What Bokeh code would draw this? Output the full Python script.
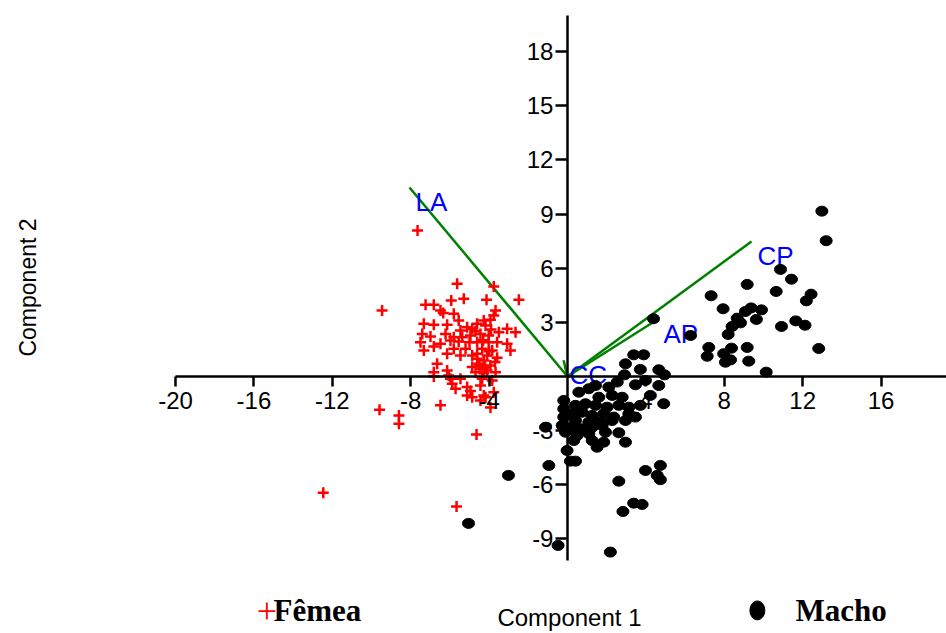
from bokeh.plotting import figure
from bokeh.models import (Range1d, LinearAxis, FixedTicker, Label, ColumnDataSource,
                          PrintfTickFormatter)
from bokeh.core.properties import value
from bokeh.embed import file_html
from bokeh.resources import INLINE

# Component scores: females (Fêmea)
fem_x = [-5.63, -3.76, -2.48, -5.93, -5.29, -4.13, -7.24, -6.82, -6.48, -6.34, -3.67, -5.80, -5.55,
         -3.76, -3.93, -7.33, -6.82, -6.14, -4.27, -4.61, -4.18, -5.12, -4.86, -5.46, -3.08, -2.65, -3.50,
         -7.41, -6.99, -6.22, -5.80, -5.37, -4.95, -4.44, -4.02, -7.50, -5.97, -5.55, -4.61, -4.02, -3.59,
         -6.82, -6.48, -3.08, -2.91, -5.80, -5.20, -4.35, -3.84, -7.33, -6.14, -5.46, -4.86, -4.61, -4.10,
         -3.59, -4.61, -4.27, -6.65, -4.52, -3.93, -4.86, -4.44, -4.10, -6.82, -6.14, -4.69, -4.27, -3.67,
         -6.82, -6.06, -5.97, -5.46, -4.35, -3.84, -5.88, -5.12, -4.44, -5.71, -4.95, -4.27, -3.76,
         -5.12, -4.86, -4.18, -6.48, -3.93, -4.44, -9.46, -9.59, -8.60, -8.60, -12.46, -7.65, -4.64, -5.66,
         -4.30, -4.70, -4.00, -4.50, -3.90, -5.00, -4.20, -3.70]
fem_y = [5.14, 4.99, 4.25, 4.21, 4.30, 4.25, 3.97, 3.97, 3.66, 3.51, 3.66, 3.47, 3.10,
         3.38, 3.14, 2.92, 2.86, 2.86, 3.10, 2.92, 2.83, 2.73, 2.64, 2.55, 2.64, 2.45, 2.45,
         2.36, 2.22, 2.36, 2.18, 2.18, 2.27, 2.36, 2.27, 1.90, 1.99, 1.94, 1.90, 1.90, 1.90,
         1.66, 1.81, 1.81, 1.44, 1.53, 1.53, 1.53, 1.44, 1.44, 1.26, 1.16, 1.16, 1.26, 1.16,
         1.04, 0.98, 0.89, 0.70, 0.70, 0.61, 0.52, 0.43, 0.33, 0.24, 0.33, 0.24, 0.18, 0.24,
         0.00, 0.06, -0.13, -0.13, -0.13, -0.22, -0.40, -0.59, -0.50, -0.68, -0.81, -1.05, -0.87,
         -1.05, -1.15, -1.15, -1.60, -1.72, -1.33, 3.66, -1.85, -2.16, -2.62, -6.44, 8.09, -3.21, -7.20,
         2.00, 2.50, 1.40, 0.60, 2.60, 1.90, 0.50, 0.80]

# Component scores: males (Macho)
mac_x = [12.98, 13.20, 10.87, 11.43, 9.17, 10.65, 7.33, 12.43, 12.19,
         7.94, 9.37, 9.90, 9.08, 8.66, 9.64, 8.83, 8.40, 10.92,
         11.65, 12.12, 8.20, 6.28, 7.21, 8.37, 9.17, 7.13, 7.97,
         8.06, 8.32, 9.25, 10.14, 12.82, 4.39,
         3.38, 3.89, 2.96, 3.72, 4.66, 4.95, 2.91, 3.98,
         3.47, 4.66, 1.43, 2.11, 2.54, 4.23, 4.91, 3.72,
         0.58, 1.09, 1.60, 2.28, 2.79, -0.19,
         0.41, 0.92, 1.43, 2.02, 2.62, 3.13, -0.19,
         0.24, 0.75, 1.26, 1.85, 2.36, 3.13, -0.19,
         0.41, 1.09, 1.68, 2.28, 2.96, 3.47,
         -0.27, 0.24, 0.75, 1.26, 1.77,
         -0.10, 0.49, 1.09, 1.94, 2.62, 1.85, -1.12,
         1.26, 2.96, 1.51, -0.02, 0.32,
         -0.95, 0.15, 0.41, 2.62, 3.98, 4.74, 4.58, 4.74,
         3.38, 3.81, 2.83, 2.19, -0.48, -3.01, -5.05]
mac_y = [9.16, 7.52, 5.93, 5.39, 5.10, 4.71, 4.47, 4.56, 4.19,
         3.75, 3.80, 3.69, 3.60, 3.23, 3.16, 2.97, 2.77, 2.77,
         3.08, 2.84, 2.33, 2.27, 1.61, 1.57, 1.61, 1.12, 1.26,
         0.79, 0.92, 0.85, 0.24, 1.55, 3.20,
         1.20, 1.20, 0.70, 0.39, 0.37, 0.09, 0.09, -0.22,
         -0.46, -0.50, -0.50, -0.59, -0.31, -1.05, -1.51, -1.60,
         -0.87, -0.68, -1.15, -1.05, -1.15, -1.33,
         -1.60, -1.51, -1.60, -1.70, -1.60, -1.70, -1.79,
         -2.07, -1.98, -2.16, -2.07, -2.25, -2.07, -2.25,
         -2.44, -2.53, -2.53, -2.44, -2.44, -2.25,
         -2.71, -2.81, -2.90, -2.81, -2.71,
         -3.09, -3.27, -3.17, -3.09, -3.12, -3.64, -2.81,
         -3.55, -3.64, -3.92, -4.10, -3.55,
         -4.93, -4.69, -4.69, -5.80, -5.21, -4.93, -5.48, -5.72,
         -7.02, -7.09, -7.48, -9.73, -9.36, -5.48, -8.14]

# Variable loadings (biplot vectors)
load_names = ["LA", "CP", "AP", "CC"]
load_x = [-8.06, 9.39, 4.59, -0.20]
load_y = [10.47, 7.48, 3.16, 0.90]

x_ticks = [-20, -16, -12, -8, -4, 4, 8, 12, 16]
y_ticks = [-9, -6, -3, 3, 6, 9, 12, 15, 18]

# the frame fills the whole canvas; the axes cross at the origin
p = figure(width=946, height=633,
           x_range=Range1d(-28.93, 19.34), y_range=Range1d(-14.24, 20.83),
           x_axis_type=None, y_axis_type=None,
           output_backend="svg", toolbar_location=None,
           min_border_left=0, min_border_right=0,
           min_border_top=0, min_border_bottom=0)
p.outline_line_color = None
p.background_fill_color = "white"
p.border_fill_color = "white"

def style_axis(ax, tick_out, standoff):
    ax.axis_line_width = 2.5
    ax.axis_line_color = "black"
    ax.major_tick_line_width = 2.5
    ax.major_tick_line_color = "black"
    ax.major_tick_out = tick_out
    ax.major_tick_in = 0
    ax.minor_tick_out = 0
    ax.minor_tick_in = 0
    ax.major_label_standoff = standoff
    ax.major_label_text_font = "Liberation Sans"
    ax.major_label_text_font_size = "24px"
    ax.major_label_text_color = "black"
    ax.formatter = PrintfTickFormatter(format="%d")

xaxis = LinearAxis(fixed_location=0, ticker=FixedTicker(ticks=x_ticks),
                   bounds=(-20, 19.34))
style_axis(xaxis, 10, 6)
p.add_layout(xaxis, "below")

yaxis = LinearAxis(fixed_location=0, ticker=FixedTicker(ticks=y_ticks),
                   bounds=(-10.2, 20.0))
style_axis(yaxis, 12, 2)
p.add_layout(yaxis, "left")

# loading vectors and their names
load_src = ColumnDataSource(dict(x=load_x, y=load_y, name=load_names))
p.segment(x0=0, y0=0, x1="x", y1="y", source=load_src,
          line_color="#008000", line_width=2.5)
p.text(x="x", y="y", text="name", source=load_src,
       x_offset=6, y_offset=0, text_baseline="top", text_align="left",
       text_font=value("Liberation Sans"), text_font_size="26px",
       text_color="#0000ff")

# scores
p.scatter(fem_x, fem_y, marker="cross", size=11, line_color="#ff0000",
          line_width=2.5)
p.ellipse(x=mac_x, y=mac_y, width=12, height=10,
          width_units="screen", height_units="screen",
          fill_color="black", line_color="black")

# axis titles
p.add_layout(Label(x=0.1, y=-13.35, text="Component 1", text_align="center",
                   text_baseline="middle", text_font="Liberation Sans",
                   text_font_size="24px", text_color="black"))
p.add_layout(Label(x=-27.55, y=4.93, text="Component 2", angle=90,
                   angle_units="deg", text_align="center",
                   text_baseline="middle", text_font="Liberation Sans Narrow, Liberation Sans",
                   text_font_size="23px", text_color="black"))

# group key
p.add_layout(Label(x=-15.85, y=-13.0, text="+", text_font="Liberation Serif",
                   text_baseline="middle",
                   text_font_size="36px", text_color="#ff0000"))
p.add_layout(Label(x=-15.0, y=-12.94, text="Fêmea", text_font="Liberation Serif",
                   text_baseline="middle",
                   text_font_size="31px", text_font_style="bold", text_color="black"))
p.ellipse(x=[9.69], y=[-12.96], width=15, height=19,
          width_units="screen", height_units="screen",
          fill_color="black", line_color="black")
p.add_layout(Label(x=11.63, y=-12.94, text="Macho", text_font="Liberation Serif",
                   text_baseline="middle",
                   text_font_size="31px", text_font_style="bold", text_color="black"))

open("out.html", "w").write(file_html(p, INLINE))
